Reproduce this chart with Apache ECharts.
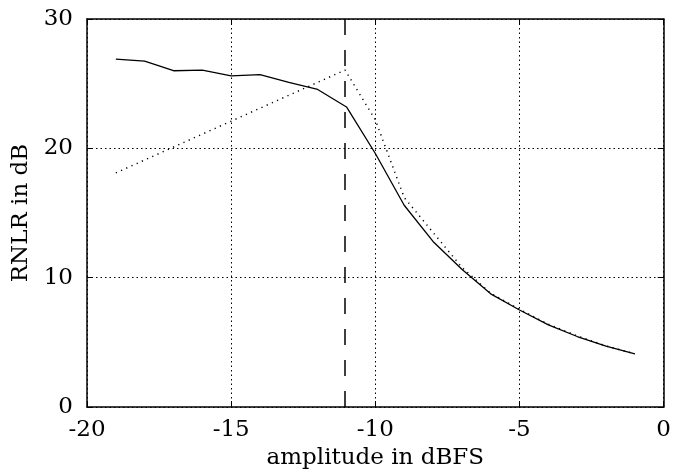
<!DOCTYPE html>
<html>
<head>
<meta charset="utf-8">
<script src="https://cdn.jsdelivr.net/npm/echarts@6/dist/echarts.min.js"></script>
<style>
html,body{margin:0;padding:0;background:#fff;}
#chart{width:674px;height:475px;}
</style>
</head>
<body>
<div id="chart"></div>
<script>
// ---- data ----
const solidX = [-19, -18, -17, -16, -15, -14, -13, -12, -11, -10, -9, -8, -7, -6, -5, -4, -3, -2, -1];
const solidY = [26.9, 26.75, 26.0, 26.05, 25.6, 25.7, 25.1, 24.55, 23.2, 19.6, 15.6, 12.8, 10.65, 8.75, 7.5, 6.35, 5.45, 4.7, 4.1];
const dottedX = [-19, -11.05, -10, -9, -8, -7, -6, -5, -4, -3, -2, -1];
const dottedY = [18.1, 26.05, 22.2, 16.2, 13.5, 10.8, 8.8, 7.55, 6.4, 5.5, 4.72, 4.12];
const thresholdX = -11.05;
const xTicks = [-20, -15, -10, -5, 0];
const yTicks = [0, 10, 20, 30];
const xTitle = 'amplitude in dBFS';
const yTitle = 'RNLR in dB';

const FONT = 'DejaVu Serif';
const FS = 23;
const pair = (xs, ys) => xs.map((x, i) => [x, ys[i]]);

const chart = echarts.init(document.getElementById('chart'), null, {renderer: 'canvas'});
const axisLine = {show: true, onZero: false, lineStyle: {color: '#000', width: 1.5}};
const tick = {show: true, inside: true, length: 6, lineStyle: {color: '#000', width: 1}};
const grid = {show: true, lineStyle: {color: '#000', width: 1, type: [1.5, 3]}};

chart.setOption({
  animation: false,
  backgroundColor: '#fff',
  grid: {left: 87, right: 6, top: 19, bottom: 63, containLabel: false},
  xAxis: [
    {
      type: 'value', position: 'bottom',
      min: xTicks[0], max: xTicks[xTicks.length - 1], interval: xTicks[1] - xTicks[0],
      axisLine: axisLine, axisTick: tick, splitLine: grid,
      axisLabel: {color: '#000', fontFamily: FONT, fontSize: FS, margin: 12},
      name: xTitle, nameLocation: 'middle', nameGap: 40,
      nameTextStyle: {color: '#000', fontFamily: FONT, fontSize: FS}
    },
    {
      type: 'value', position: 'top',
      min: xTicks[0], max: xTicks[xTicks.length - 1], interval: xTicks[1] - xTicks[0],
      axisLine: axisLine, axisTick: tick, splitLine: {show: false}, axisLabel: {show: false}
    }
  ],
  yAxis: [
    {
      type: 'value', position: 'left',
      min: yTicks[0], max: yTicks[yTicks.length - 1], interval: yTicks[1] - yTicks[0],
      axisLine: axisLine, axisTick: tick, splitLine: grid,
      axisLabel: {color: '#000', fontFamily: FONT, fontSize: FS, margin: 14},
      name: yTitle, nameLocation: 'middle', nameGap: 40, nameRotate: 90,
      nameTextStyle: {color: '#000', fontFamily: FONT, fontSize: FS}
    },
    {
      type: 'value', position: 'right',
      min: yTicks[0], max: yTicks[yTicks.length - 1], interval: yTicks[1] - yTicks[0],
      axisLine: axisLine, axisTick: tick, splitLine: {show: false}, axisLabel: {show: false}
    }
  ],
  series: [
    {
      type: 'line', xAxisIndex: 0, yAxisIndex: 0,
      data: pair(solidX, solidY), symbol: 'none', silent: true,
      lineStyle: {color: '#000', width: 1.3},
      markLine: {
        silent: true, symbol: 'none', animation: false,
        label: {show: false},
        lineStyle: {color: '#000', width: 1.5, type: [16, 15]},
        data: [{xAxis: thresholdX}]
      }
    },
    {
      type: 'line', xAxisIndex: 0, yAxisIndex: 0,
      data: pair(dottedX, dottedY), symbol: 'none', silent: true,
      lineStyle: {color: '#000', width: 1.5, type: [1.2, 4.5]}
    }
  ]
});
</script>
</body>
</html>
